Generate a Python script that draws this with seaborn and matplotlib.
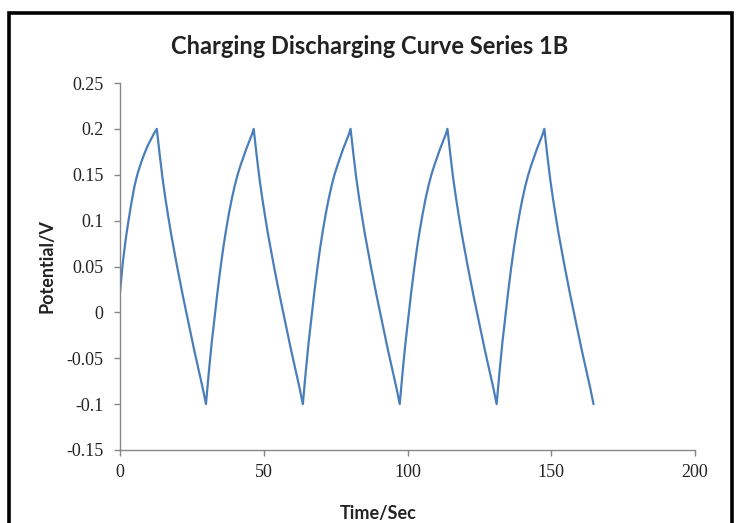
import matplotlib
matplotlib.use("Agg")
import matplotlib.pyplot as plt
import seaborn as sns
import pandas as pd
from matplotlib.patches import Rectangle

# ---- data ----
time_sec = [
    0, 1, 2, 3, 4, 5, 6, 7, 8, 9, 10, 11, 12, 12.8,
    13.8, 14.8, 15.8, 16.8, 17.8, 18.8, 19.8, 20.8, 21.8, 22.8, 23.8, 24.8, 25.8, 26.8, 27.8, 28.8, 29.9,
    30.9, 31.9, 32.9, 33.9, 34.9, 35.9, 36.9, 37.9, 38.9, 39.9, 40.9, 41.9, 42.9, 43.9, 44.9, 45.9, 46.5,
    47.5, 48.5, 49.5, 50.5, 51.5, 52.5, 53.5, 54.5, 55.5, 56.5, 57.5, 58.5, 59.5, 60.5, 61.5, 62.5, 63.6,
    64.6, 65.6, 66.6, 67.6, 68.6, 69.6, 70.6, 71.6, 72.6, 73.6, 74.6, 75.6, 76.6, 77.6, 78.6, 79.6, 80.2,
    81.2, 82.2, 83.2, 84.2, 85.2, 86.2, 87.2, 88.2, 89.2, 90.2, 91.2, 92.2, 93.2, 94.2, 95.2, 96.2, 97.3,
    98.3, 99.3, 100.3, 101.3, 102.3, 103.3, 104.3, 105.3, 106.3, 107.3, 108.3, 109.3, 110.3, 111.3, 112.3, 113.3, 113.9,
    114.9, 115.9, 116.9, 117.9, 118.9, 119.9, 120.9, 121.9, 122.9, 123.9, 124.9, 125.9, 126.9, 127.9, 128.9, 129.9, 131.0,
    132.0, 133.0, 134.0, 135.0, 136.0, 137.0, 138.0, 139.0, 140.0, 141.0, 142.0, 143.0, 144.0, 145.0, 146.0, 147.0, 147.6,
    148.6, 149.6, 150.6, 151.6, 152.6, 153.6, 154.6, 155.6, 156.6, 157.6, 158.6, 159.6, 160.6, 161.6, 162.6, 163.6, 164.7,
]
potential_v = [
    0.022, 0.055, 0.080, 0.101, 0.120, 0.137, 0.150, 0.160, 0.169, 0.177, 0.184, 0.190, 0.196, 0.200,
    0.172, 0.146, 0.124, 0.104, 0.085, 0.068, 0.051, 0.035, 0.019, 0.004, -0.011, -0.026, -0.041, -0.055, -0.069, -0.083, -0.100,
    -0.065, -0.033, -0.005, 0.022, 0.047, 0.070, 0.090, 0.108, 0.124, 0.138, 0.150, 0.160, 0.169, 0.178, 0.186, 0.194, 0.200,
    0.172, 0.146, 0.124, 0.104, 0.085, 0.068, 0.051, 0.035, 0.019, 0.004, -0.011, -0.026, -0.041, -0.055, -0.069, -0.083, -0.100,
    -0.065, -0.033, -0.005, 0.022, 0.047, 0.070, 0.090, 0.108, 0.124, 0.138, 0.150, 0.160, 0.169, 0.178, 0.186, 0.194, 0.200,
    0.172, 0.146, 0.124, 0.104, 0.085, 0.068, 0.051, 0.035, 0.019, 0.004, -0.011, -0.026, -0.041, -0.055, -0.069, -0.083, -0.100,
    -0.065, -0.033, -0.005, 0.022, 0.047, 0.070, 0.090, 0.108, 0.124, 0.138, 0.150, 0.160, 0.169, 0.178, 0.186, 0.194, 0.200,
    0.172, 0.146, 0.124, 0.104, 0.085, 0.068, 0.051, 0.035, 0.019, 0.004, -0.011, -0.026, -0.041, -0.055, -0.069, -0.083, -0.100,
    -0.065, -0.033, -0.005, 0.022, 0.047, 0.070, 0.090, 0.108, 0.124, 0.138, 0.150, 0.160, 0.169, 0.178, 0.186, 0.194, 0.200,
    0.172, 0.146, 0.124, 0.104, 0.085, 0.068, 0.051, 0.035, 0.019, 0.004, -0.011, -0.026, -0.041, -0.055, -0.069, -0.083, -0.100,
]
x_ticks = [0, 50, 100, 150, 200]
y_ticks = [-0.15, -0.1, -0.05, 0, 0.05, 0.1, 0.15, 0.2, 0.25]
y_tick_labels = ["-0.15", "-0.1", "-0.05", "0", "0.05", "0.1", "0.15", "0.2", "0.25"]
title = "Charging Discharging Curve Series 1B"
x_label = "Time/Sec"
y_label = "Potential/V"

df = pd.DataFrame({"t": time_sec, "v": potential_v})

sns.set_theme(style="white")
plt.rcParams["font.family"] = ["Lato", "DejaVu Sans"]

fig = plt.figure(figsize=(7.37, 5.23), dpi=100)
fig.patch.set_facecolor("white")
ax = fig.add_axes([120/737, 1-450/523, 575/737, 367/523])

sns.lineplot(data=df, x="t", y="v", ax=ax, color="#4a7ebb", linewidth=1.6,
             sort=False, estimator=None)

ax.set_xlim(0, 200)
ax.set_ylim(-0.15, 0.25)
ax.set_xticks(x_ticks)
ax.set_xticklabels([str(v) for v in x_ticks])
ax.set_yticks(y_ticks)
ax.set_yticklabels(y_tick_labels)

for side in ["top", "right"]:
    ax.spines[side].set_visible(False)
for side in ["left", "bottom"]:
    ax.spines[side].set_color("#868686")
    ax.spines[side].set_linewidth(1.0)

ax.tick_params(axis="both", which="major", direction="out", length=4, width=1.0,
               color="#868686", labelsize=13, labelcolor="#222222")
ax.tick_params(axis="y", left=True, pad=8)
ax.tick_params(axis="x", bottom=True, pad=6)
for lab in ax.get_xticklabels() + ax.get_yticklabels():
    lab.set_fontfamily(["Liberation Serif", "DejaVu Serif"])

ax.set_xlabel(x_label, fontsize=13, fontweight="bold", color="#222222")
ax.set_ylabel(y_label, fontsize=13, fontweight="bold", color="#222222")
ax.xaxis.set_label_coords(0.449, -0.15)
ax.yaxis.set_label_coords(-0.112, 0.5)

fig.text(370/737, 1-46/523, title, ha="center", va="center",
         fontsize=17, fontweight="bold", color="#222222")

# outer chart border
fig.patches.append(Rectangle((8.5/737, -0.05), (731.5-8.5)/737, 1.05-13/523,
                             transform=fig.transFigure, fill=False,
                             edgecolor="black", linewidth=2.6, zorder=10))

fig.savefig("out.png", dpi=100)
